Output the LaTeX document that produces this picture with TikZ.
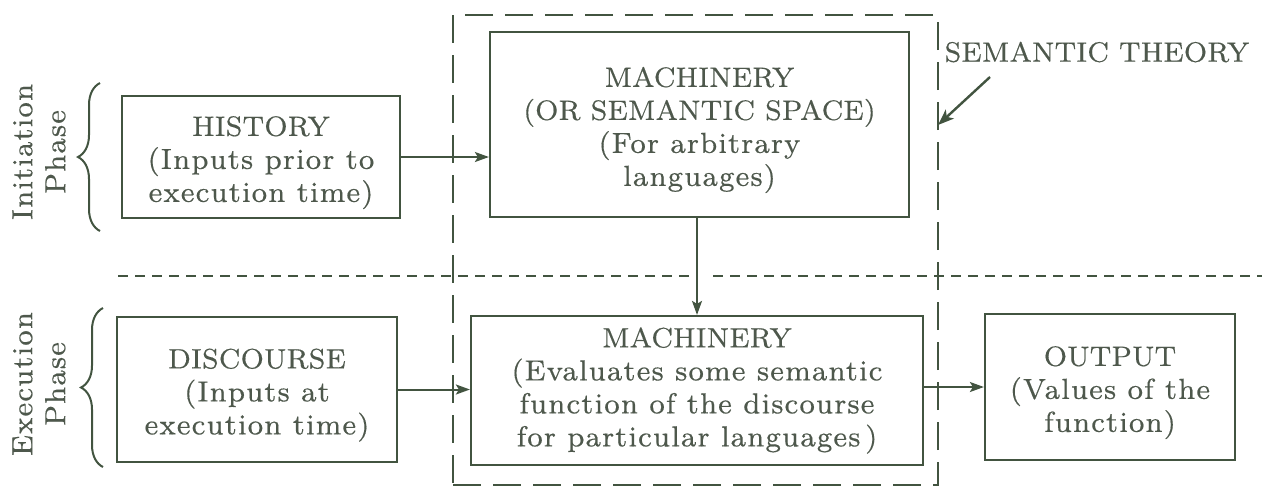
\documentclass[tikz,border=0pt]{standalone}
\usepackage{fontspec}
\setmainfont{lmroman8-regular}[Extension=.otf, LetterSpace=4, FakeBold=0.35]
\newfontfamily\capsfont{lmroman8-regular}[Extension=.otf, LetterSpace=1, FakeBold=0.35]
\usetikzlibrary{arrows.meta,decorations.pathreplacing}
\definecolor{ink}{RGB}{66,84,64}
\definecolor{txt}{RGB}{78,88,76}
\newcommand\diagfont{\fontsize{14.5}{16.5}\selectfont}
\newcommand\hd[1]{{\fontsize{14}{16.5}\selectfont\capsfont #1}}
% taller first line, so the text block sits a little low in its box
\newcommand\lift{\rule{0pt}{15.5pt}}
\begin{document}
\begin{tikzpicture}[x=0.5pt,y=-0.5pt,
  every node/.style={text=txt, font=\diagfont},
  box/.style={draw=ink, line width=1.1pt, align=center, inner sep=0pt},
  frame/.style={draw=ink, line width=1.3pt, dash pattern=on 14pt off 6pt, inner sep=0pt},
  divider/.style={draw=ink, line width=1pt, dash pattern=on 5pt off 3.5pt},
  arr/.style={draw=ink, line width=1pt, -{Stealth[length=7pt,width=5pt,inset=1.5pt]}},
  bracket/.style={draw=ink, line width=1pt, decorate, decoration={brace, amplitude=11pt}},
  phase/.style={rotate=90, align=center}]
\useasboundingbox (0,0) rectangle (1262,489);

% semantic theory frame
\node[frame, minimum width=242.5pt, minimum height=235pt] (theory) at (695.5,250) {};

% phase divider
\coordinate (divA) at (118,276);
\coordinate (divB) at (690,276);
\coordinate (divC) at (713,276);
\coordinate (divD) at (1262,276);
\draw[divider] (divA) -- (divB);
\draw[divider] (divC) -- (divD);

% boxes
\node[box, minimum width=139pt, minimum height=61pt] (hist) at (261,157)
  {\lift\hd{HISTORY}\\(Inputs prior to\\execution time)};
\node[box, minimum width=209.5pt, minimum height=92.5pt] (mach1) at (699.5,124.5)
  {\lift\hd{MACHINERY}\\\hd{(OR SEMANTIC SPACE)}\\(For arbitrary\\languages)};
\node[box, minimum width=140pt, minimum height=72.5pt] (disc) at (257,389.5)
  {\lift\hd{DISCOURSE}\\(Inputs at\\execution time)};
\node[box, minimum width=226pt, minimum height=74.5pt] (mach2) at (697,390.5)
  {\hd{MACHINERY}\\(Evaluates some semantic\\function of the discourse\\for particular languages\,)};
\node[box, minimum width=125pt, minimum height=73pt] (out) at (1110,387)
  {\lift\hd{OUTPUT}\\(Values of the\\function)};

% connectors
\draw[arr] (hist.east) -- (hist.east -| mach1.west);
\draw[arr] (mach1.south -| mach2.north) -- (mach2.north);
\draw[arr] (disc.east) -- (disc.east -| mach2.west);
\draw[arr] (out.west -| mach2.east) -- (out.west);

% frame label
\node[anchor=center] (stlabel) at (1097,52) {\hd{SEMANTIC THEORY}};
\coordinate (stTail) at (990,77);
\coordinate (stHead) at (938,125);
\draw[draw=ink, line width=1.2pt, -{Stealth[length=8pt,width=6pt,inset=2pt]}] (stTail) -- (stHead);

% phase braces and labels
\coordinate (b1lo) at (100,231);
\coordinate (b1hi) at (100,83);
\coordinate (b2lo) at (103,467);
\coordinate (b2hi) at (103,308);
\draw[bracket] (b1lo) -- (b1hi);
\draw[bracket] (b2lo) -- (b2hi);
\node[phase] (init) at (39,152) {Initiation\\Phase};
\node[phase] (exec) at (39,384) {Execution\\Phase};
\end{tikzpicture}
\end{document}
